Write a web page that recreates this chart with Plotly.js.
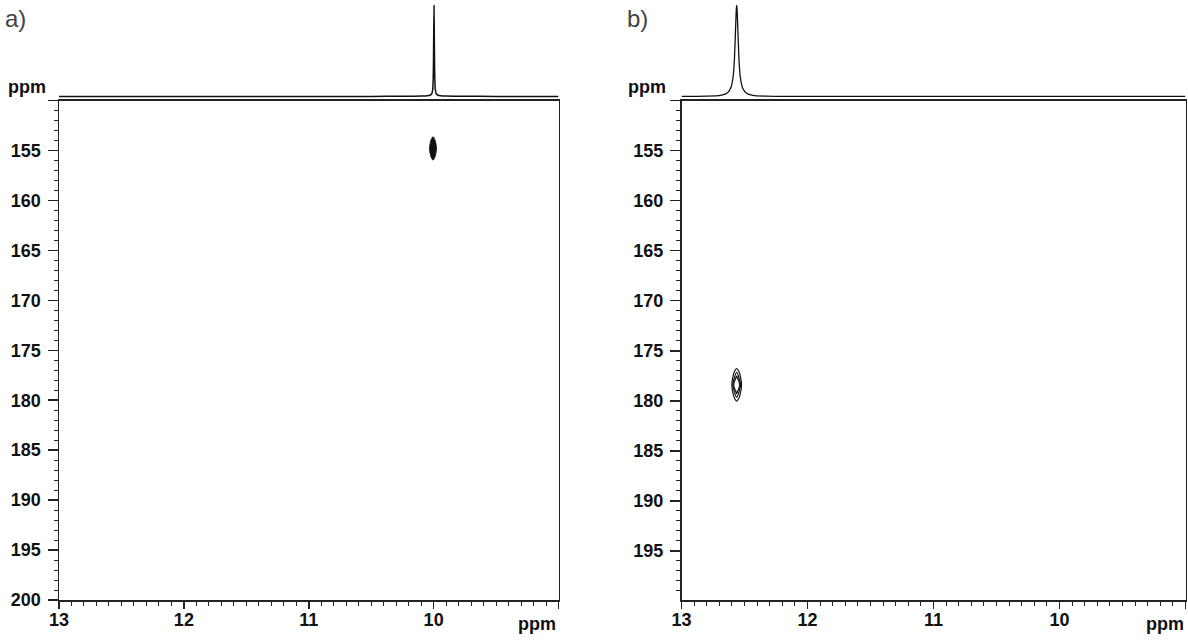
<!DOCTYPE html>
<html>
<head>
<meta charset="utf-8">
<script src="https://cdn.plot.ly/plotly-3.0.1.min.js"></script>
<style>html,body{margin:0;padding:0;background:#fff;}#chart{width:1188px;height:644px;}</style>
</head>
<body>
<div id="chart"></div>
<script>
// ---- axis ticks ----
const xTickVals = [13, 12, 11, 10, 9];
const xTickText = ['13', '12', '11', '10', ''];
const yTickValsA = [150, 155, 160, 165, 170, 175, 180, 185, 190, 195, 200];
const yTickTextA = ['', '155', '160', '165', '170', '175', '180', '185', '190', '195', '200'];
const yTickValsB = [150, 155, 160, 165, 170, 175, 180, 185, 190, 195];
const yTickTextB = ['', '155', '160', '165', '170', '175', '180', '185', '190', '195'];

// ---- panel a: 1D projection (1H, ppm) ----
const specA_ppm = [13, 10.5, 10.2, 10.1, 10.05, 10.03, 10.015, 10.007, 10.002, 9.997, 9.992, 9.987, 9.979, 9.964, 9.944, 9.9, 9.8, 9.5, 9];
const specA_int = [0, 0.001, 0.002, 0.004, 0.008, 0.014, 0.03, 0.08, 0.3, 1.0, 0.3, 0.08, 0.03, 0.014, 0.008, 0.004, 0.002, 0.001, 0];

// ---- panel a: 2D cross peak (grid around the peak) ----
const peakA_x = [9.945, 9.969, 9.987, 10.005, 10.023, 10.041, 10.065];
const peakA_y = [151.8, 153.3, 154.2, 154.8, 155.4, 156.3, 157.8];
const peakA_z = [
  [0, 0, 0, 0, 0, 0, 0],
  [0, 0.001, 0.025, 0.05, 0.025, 0.001, 0],
  [0, 0.012, 0.3, 0.6, 0.3, 0.012, 0],
  [0, 0.02, 0.5, 1.0, 0.5, 0.02, 0],
  [0, 0.012, 0.3, 0.6, 0.3, 0.012, 0],
  [0, 0.001, 0.025, 0.05, 0.025, 0.001, 0],
  [0, 0, 0, 0, 0, 0, 0]
];

// ---- panel b: 1D projection ----
const specB_ppm = [13, 12.9, 12.8, 12.69, 12.64, 12.61, 12.59, 12.58, 12.57, 12.565, 12.562, 12.559, 12.554, 12.544, 12.534, 12.514, 12.484, 12.434, 12.334, 12.2, 12.0, 11, 10, 9];
const specB_int = [0.001, 0.002, 0.004, 0.013, 0.035, 0.09, 0.22, 0.41, 0.78, 0.96, 1.0, 0.96, 0.78, 0.41, 0.22, 0.09, 0.035, 0.013, 0.004, 0.002, 0.001, 0.0005, 0.0003, 0.0002];

// ---- panel b: 2D cross peak ----
const peakB_x = [12.48, 12.522, 12.544, 12.562, 12.58, 12.602, 12.644];
const peakB_y = [174.5, 176.7, 177.7, 178.4, 179.1, 180.1, 182.3];
const peakB_z = [
  [0, 0, 0, 0, 0, 0, 0],
  [0, 0.0225, 0.09, 0.15, 0.09, 0.0225, 0],
  [0, 0.09, 0.33, 0.55, 0.33, 0.09, 0],
  [0, 0.15, 0.6, 1.0, 0.6, 0.15, 0],
  [0, 0.09, 0.33, 0.55, 0.33, 0.09, 0],
  [0, 0.0225, 0.09, 0.15, 0.09, 0.0225, 0],
  [0, 0, 0, 0, 0, 0, 0]
];

// ---- geometry (pixels of the 1188x644 figure) ----
const W = 1188, H = 644;
const px = v => v / W;
const py = v => 1 - v / H;
const domXA = [px(59), px(558.5)];
const domXB = [px(681.5), px(1185.5)];
const dom2D = [py(600), py(100.5)];
const dom1D = [py(98.3), py(3.7)];

const FONT = 'Liberation Sans, Arial, Helvetica, sans-serif';
const AX = '#222';
const tickFont = {family: FONT, size: 18, color: '#111', weight: 'bold'};

function xAxis(domain, anchor) {
  return {
    domain: domain, anchor: anchor, range: [13, 9], autorange: false,
    tickmode: 'array', tickvals: xTickVals, ticktext: xTickText,
    ticks: 'outside', ticklen: 7, tickwidth: 1.5, tickcolor: AX,
    minor: {tickmode: 'linear', tick0: 9, dtick: 0.1, ticks: 'outside', ticklen: 4, tickwidth: 1, tickcolor: AX, showgrid: false},
    showline: true, linecolor: AX, linewidth: 1.5, mirror: true,
    showgrid: false, zeroline: false, tickfont: tickFont, ticklabelstandoff: -4
  };
}
function yAxis(domain, anchor, range, vals, text) {
  return {
    domain: domain, anchor: anchor, range: range, autorange: false,
    tickmode: 'array', tickvals: vals, ticktext: text,
    ticks: 'outside', ticklen: 10, tickwidth: 1.5, tickcolor: AX,
    minor: {tickmode: 'linear', tick0: 150, dtick: 1, ticks: 'outside', ticklen: 4, tickwidth: 1, tickcolor: AX, showgrid: false},
    showline: true, linecolor: AX, linewidth: 1.5, mirror: true,
    showgrid: false, zeroline: false, tickfont: tickFont, ticklabelstandoff: 3
  };
}
function hiddenX(domain, anchor) {
  return {domain: domain, anchor: anchor, range: [13, 9], autorange: false, visible: false, showgrid: false, zeroline: false};
}
function hiddenY(anchor) {
  return {domain: dom1D, anchor: anchor, range: [-0.02, 1.02], autorange: false, visible: false, showgrid: false, zeroline: false};
}

const traces = [
  {type: 'scatter', mode: 'lines', x: specA_ppm, y: specA_int, xaxis: 'x2', yaxis: 'y2',
   line: {color: '#111', width: 1.5, shape: 'spline', smoothing: 0.6}, hoverinfo: 'skip'},
  {type: 'contour', x: peakA_x, y: peakA_y, z: peakA_z, xaxis: 'x', yaxis: 'y',
   contours: {type: 'constraint', operation: '<', value: 0.25},
   fillcolor: '#111', line: {color: '#111', width: 1, smoothing: 1}, showscale: false, showlegend: false, hoverinfo: 'skip'},
  {type: 'scatter', mode: 'lines', x: specB_ppm, y: specB_int, xaxis: 'x4', yaxis: 'y4',
   line: {color: '#111', width: 1.3, shape: 'spline', smoothing: 0.6}, hoverinfo: 'skip'},
  {type: 'contour', x: peakB_x, y: peakB_y, z: peakB_z, xaxis: 'x3', yaxis: 'y3',
   contours: {coloring: 'lines', start: 0.18, end: 0.48, size: 0.15},
   colorscale: [[0, '#111'], [1, '#111']], line: {width: 1.2, smoothing: 1}, showscale: false, hoverinfo: 'skip'}
];

const ann = (text, x, y, xanchor, size, weight, color) => ({
  text: text, xref: 'paper', yref: 'paper', x: x, y: y, xanchor: xanchor, yanchor: 'middle',
  showarrow: false, font: {family: FONT, size: size, weight: weight, color: color}
});

const layout = {
  width: W, height: H,
  margin: {l: 0, r: 0, t: 0, b: 0},
  paper_bgcolor: '#fff', plot_bgcolor: 'rgba(0,0,0,0)',
  showlegend: false,
  xaxis: xAxis(domXA, 'y'),
  yaxis: yAxis(dom2D, 'x', [200, 150], yTickValsA, yTickTextA),
  xaxis2: hiddenX(domXA, 'y2'),
  yaxis2: hiddenY('x2'),
  xaxis3: xAxis(domXB, 'y3'),
  yaxis3: yAxis(dom2D, 'x3', [199.9, 150], yTickValsB, yTickTextB),
  xaxis4: hiddenX(domXB, 'y4'),
  yaxis4: hiddenY('x4'),
  annotations: [
    ann('a)', px(3), py(19), 'left', 24, 'normal', '#444'),
    ann('b)', px(625), py(19), 'left', 24, 'normal', '#444'),
    ann('ppm', px(6), py(87), 'left', 18, 'bold', '#111'),
    ann('ppm', px(626), py(87), 'left', 18, 'bold', '#111'),
    ann('ppm', px(558), py(624), 'right', 18, 'bold', '#111'),
    ann('ppm', px(1186), py(624), 'right', 18, 'bold', '#111')
  ]
};

Plotly.newPlot('chart', traces, layout, {staticPlot: true, displayModeBar: false});
</script>
</body>
</html>
